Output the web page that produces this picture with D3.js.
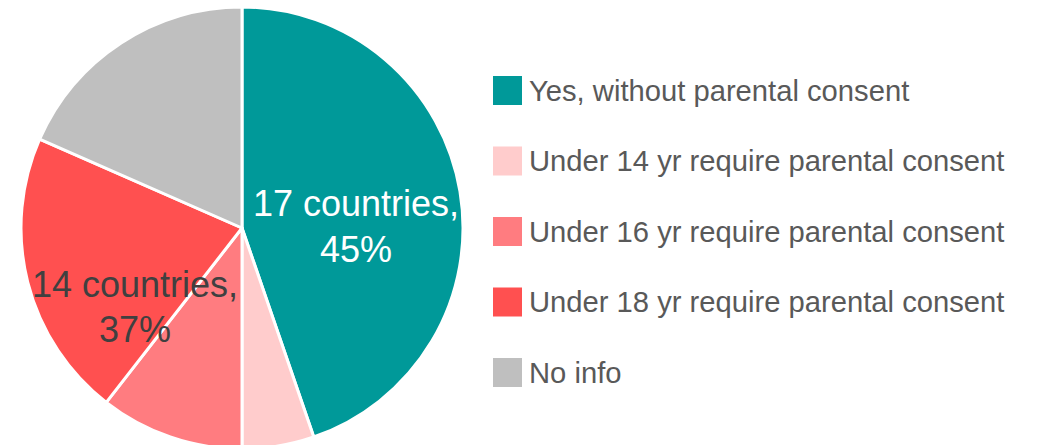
<!DOCTYPE html>
<html>
<head>
<meta charset="utf-8">
<script src="https://cdn.jsdelivr.net/npm/d3@7"></script>
<style>
  body { margin: 0; background: #fff; }
  svg { display: block; font-family: "Liberation Sans", Arial, sans-serif; }
</style>
</head>
<body>
<svg id="chart" width="1038" height="445"></svg>
<script>
// data (number of countries)
const categories = [
    'Yes, without parental consent',
    'Under 14 yr require parental consent',
    'Under 16 yr require parental consent',
    'Under 18 yr require parental consent',
    'No info'
];
const counts = [17, 2, 4, 8, 7];
const colors = ['#009999', '#ffcccc', '#ff7c80', '#ff5050', '#bfbfbf'];

// the two data labels shown on the pie
const labelLines = [
    ['17 countries,', '45%'],
    ['14 countries,', '37%']
];

const svg = d3.select('#chart');
const pieCenter = { x: 242, y: 228 };
const radius = 221;

const pie = d3.pie().sort(null).value(d => d.value);
const arcs = pie(categories.map((c, i) => ({ name: c, value: counts[i], color: colors[i] })));

const arc = d3.arc().innerRadius(0).outerRadius(radius);

const pieGroup = svg.append('g')
    .attr('transform', 'translate(' + pieCenter.x + ',' + pieCenter.y + ')');

pieGroup.selectAll('path')
    .data(arcs)
    .enter()
    .append('path')
    .attr('d', arc)
    .attr('fill', d => d.data.color)
    .attr('stroke', '#fff')
    .attr('stroke-width', 3)
    .attr('stroke-linejoin', 'round');

// label for the teal slice
const tealLabel = pieGroup.append('text')
    .attr('text-anchor', 'middle')
    .attr('font-size', 36)
    .attr('fill', '#fff');
tealLabel.selectAll('tspan')
    .data(labelLines[0])
    .enter()
    .append('tspan')
    .attr('x', 114)
    .attr('y', (d, i) => -12 + i * 46)
    .text(d => d);

// combined label for the three "require consent" slices
const consentLabel = pieGroup.append('text')
    .attr('text-anchor', 'middle')
    .attr('font-size', 36)
    .attr('fill', '#404040');
consentLabel.selectAll('tspan')
    .data(labelLines[1])
    .enter()
    .append('tspan')
    .attr('x', -107)
    .attr('y', (d, i) => 69 + i * 45)
    .text(d => d);

// legend
const legendY = d3.scalePoint()
    .domain(categories)
    .range([90.5, 372.5]);

const legend = svg.append('g')
    .selectAll('g')
    .data(categories)
    .enter()
    .append('g')
    .attr('transform', d => 'translate(493,' + legendY(d) + ')');

legend.append('rect')
    .attr('x', 0)
    .attr('y', -14.5)
    .attr('width', 29)
    .attr('height', 29)
    .attr('fill', (d, i) => colors[i]);

legend.append('text')
    .attr('x', 36)
    .attr('y', 10)
    .attr('font-size', 29.2)
    .attr('fill', '#595959')
    .text(d => d);
</script>
</body>
</html>
